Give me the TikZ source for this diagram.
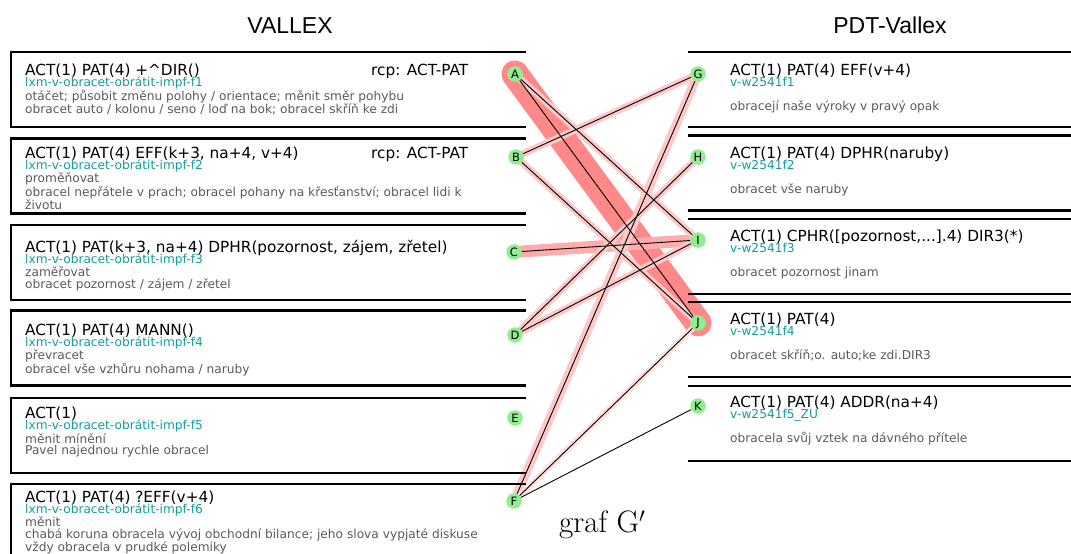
\documentclass[tikz,border=0pt]{standalone}
\usepackage{fontspec}
\newfontfamily\dvfont{DejaVu Sans}
\newfontfamily\titlefont{Liberation Sans}
\usetikzlibrary{positioning}

\definecolor{vteal}{RGB}{20,155,155}
\definecolor{vgray}{RGB}{90,90,90}
\definecolor{vgreen}{RGB}{144,238,144}
\definecolor{haloA}{RGB}{255,136,136}
\definecolor{haloC}{RGB}{255,172,172}
\definecolor{haloB}{RGB}{255,200,200}
\definecolor{haloF}{RGB}{255,222,222}

\newcommand\tline[1]{\hbox{#1}}

\pgfdeclarelayer{bg}
\pgfsetlayers{bg,main}

\tikzset{
  boxline/.style={line width=2.6pt},
  vtx/.style={circle, fill=vgreen, inner sep=0pt, minimum size=15.5pt,
    font=\dvfont\fontsize{11.5}{11.5}\selectfont},
  head/.style={anchor=base west, inner sep=0pt,
    font=\dvfont\fontsize{15.3}{15.3}\selectfont},
  body/.style={anchor=base west, inner sep=0pt, text=vgray,
    font=\dvfont\fontsize{12.2}{11.8}\selectfont},
  ttl/.style={anchor=base, inner sep=0pt, font=\titlefont\fontsize{23}{23}\selectfont},
  halo/.style={line cap=round},
  edge/.style={line width=0.9pt}
}

\begin{document}
\begin{tikzpicture}[x=1pt, y=-1pt]
  \useasboundingbox (0,0) rectangle (1071,554);

  % titles
  \node[ttl] (tv) at (290,33) {VALLEX};
  \node[ttl] (tp) at (890,33) {PDT-Vallex};

  % left frames
  \foreach \t in {52,138.5,225,310.5,398,484}
    \draw[boxline] (526,\t) -- (11,\t) -- (11,\t+75) -- (526,\t+75);

  % right frames
  \foreach \t in {52,135.5,219,302,386}
    {\draw[boxline] (688,\t) -- (1075,\t);
     \draw[boxline] (688,\t+75) -- (1075,\t+75);}

  % left texts
  \node[head] (h1) at (25,75) {ACT(1) PAT(4) +\textasciicircum DIR()};
  \node[head] (r1) at (371,75) {rcp: ACT-PAT};
  \node[body] (b1) at (25,86.7) {\vtop{\tline{\textcolor{vteal}{lxm-v-obracet-obrátit-impf-f1}}
    \tline{otáčet; působit změnu polohy / orientace; měnit směr pohybu}
    \tline{obracet auto / kolonu / seno / loď na bok; obracel skříň ke zdi}}};

  \node[head] (h2) at (25,158) {ACT(1) PAT(4) EFF(k+3, na+4, v+4)};
  \node[head] (r2) at (371,158) {rcp: ACT-PAT};
  \node[body] (b2) at (25,169.7) {\vtop{\tline{\textcolor{vteal}{lxm-v-obracet-obrátit-impf-f2}}
    \tline{proměňovat}
    \tline{obracel nepřátele v prach; obracel pohany na křesťanství; obracel lidi k}
    \tline{životu}}};

  \node[head] (h3) at (25,252) {ACT(1) PAT(k+3, na+4) DPHR(pozornost, zájem, zřetel)};
  \node[body] (b3) at (25,263.7) {\vtop{\tline{\textcolor{vteal}{lxm-v-obracet-obrátit-impf-f3}}
    \tline{zaměřovat}
    \tline{obracet pozornost / zájem / zřetel}}};

  \node[head] (h4) at (25,335) {ACT(1) PAT(4) MANN()};
  \node[body] (b4) at (25,346.7) {\vtop{\tline{\textcolor{vteal}{lxm-v-obracet-obrátit-impf-f4}}
    \tline{převracet}
    \tline{obracel vše vzhůru nohama / naruby}}};

  \node[head] (h5) at (25,418) {ACT(1)};
  \node[body] (b5) at (25,429.7) {\vtop{\tline{\textcolor{vteal}{lxm-v-obracet-obrátit-impf-f5}}
    \tline{měnit mínění}
    \tline{Pavel najednou rychle obracel}}};

  \node[head] (h6) at (25,502) {ACT(1) PAT(4) ?EFF(v+4)};
  \node[body] (b6) at (25,513.5) {\vtop{\tline{\textcolor{vteal}{lxm-v-obracet-obrátit-impf-f6}}
    \tline{měnit}
    \tline{chabá koruna obracela vývoj obchodní bilance; jeho slova vypjaté diskuse}
    \tline{vždy obracela v prudké polemiky}}};

  % right texts
  \node[head] (h7) at (730,75) {ACT(1) PAT(4) EFF(v+4)};
  \node[body] (b7) at (730,86.7) {\vtop{\tline{\textcolor{vteal}{v-w2541f1}}\tline{}
    \tline{obracejí naše výroky v pravý opak}}};

  \node[head] (h8) at (730,158) {ACT(1) PAT(4) DPHR(naruby)};
  \node[body] (b8) at (730,169.7) {\vtop{\tline{\textcolor{vteal}{v-w2541f2}}\tline{}
    \tline{obracet vše naruby}}};

  \node[head] (h9) at (730,241) {ACT(1) CPHR([pozornost,...].4) DIR3(*)};
  \node[body] (b9) at (730,252.7) {\vtop{\tline{\textcolor{vteal}{v-w2541f3}}\tline{}
    \tline{obracet pozornost jinam}}};

  \node[head] (h10) at (730,324) {ACT(1) PAT(4)};
  \node[body] (b10) at (730,335.7) {\vtop{\tline{\textcolor{vteal}{v-w2541f4}}\tline{}
    \tline{obracet skříň;o. auto;ke zdi.DIR3}}};

  \node[head] (h11) at (730,407) {ACT(1) PAT(4) ADDR(na+4)};
  \node[body] (b11) at (730,418.7) {\vtop{\tline{\textcolor{vteal}{v-w2541f5\_ZU}}\tline{}
    \tline{obracela svůj vztek na dávného přítele}}};

  % vertices
  \node[vtx] (A) at (515,74) {A};
  \node[vtx] (B) at (516,157) {B};
  \node[vtx] (C) at (514,252) {C};
  \node[vtx] (D) at (515,335) {D};
  \node[vtx] (E) at (515,418) {E};
  \node[vtx] (F) at (514,501) {F};
  \node[vtx] (G) at (698,74) {G};
  \node[vtx] (H) at (698,157) {H};
  \node[vtx] (I) at (698,240) {I};
  \node[vtx] (J) at (698,323) {J};
  \node[vtx] (K) at (698,406) {K};

  % halos under the edges
  \begin{pgfonlayer}{bg}
    \draw[halo, haloA, line width=27pt] (A.center) -- (J.center);
    \draw[halo, haloC, line width=12pt] (C.center) -- (I.center);
    \draw[halo, haloB, line width=9pt] (F.center) -- (G.center);
    \foreach \a/\b in {A/I, B/G, B/J, D/H, D/I}
      \draw[halo, haloB, line width=7pt] (\a.center) -- (\b.center);
    \draw[halo, haloF, line width=6pt] (F.center) -- (J.center);
  \end{pgfonlayer}

  % edges
  \foreach \a/\b in {A/J, A/I, B/G, B/J, C/I, D/H, D/I, F/G, F/J, F/K}
    \draw[edge] (\a) -- (\b);

  % caption
  \node[anchor=base west, inner sep=0pt, font=\fontsize{31}{31}\selectfont] (cap) at (559,532) {graf G$'$};
\end{tikzpicture}
\end{document}
